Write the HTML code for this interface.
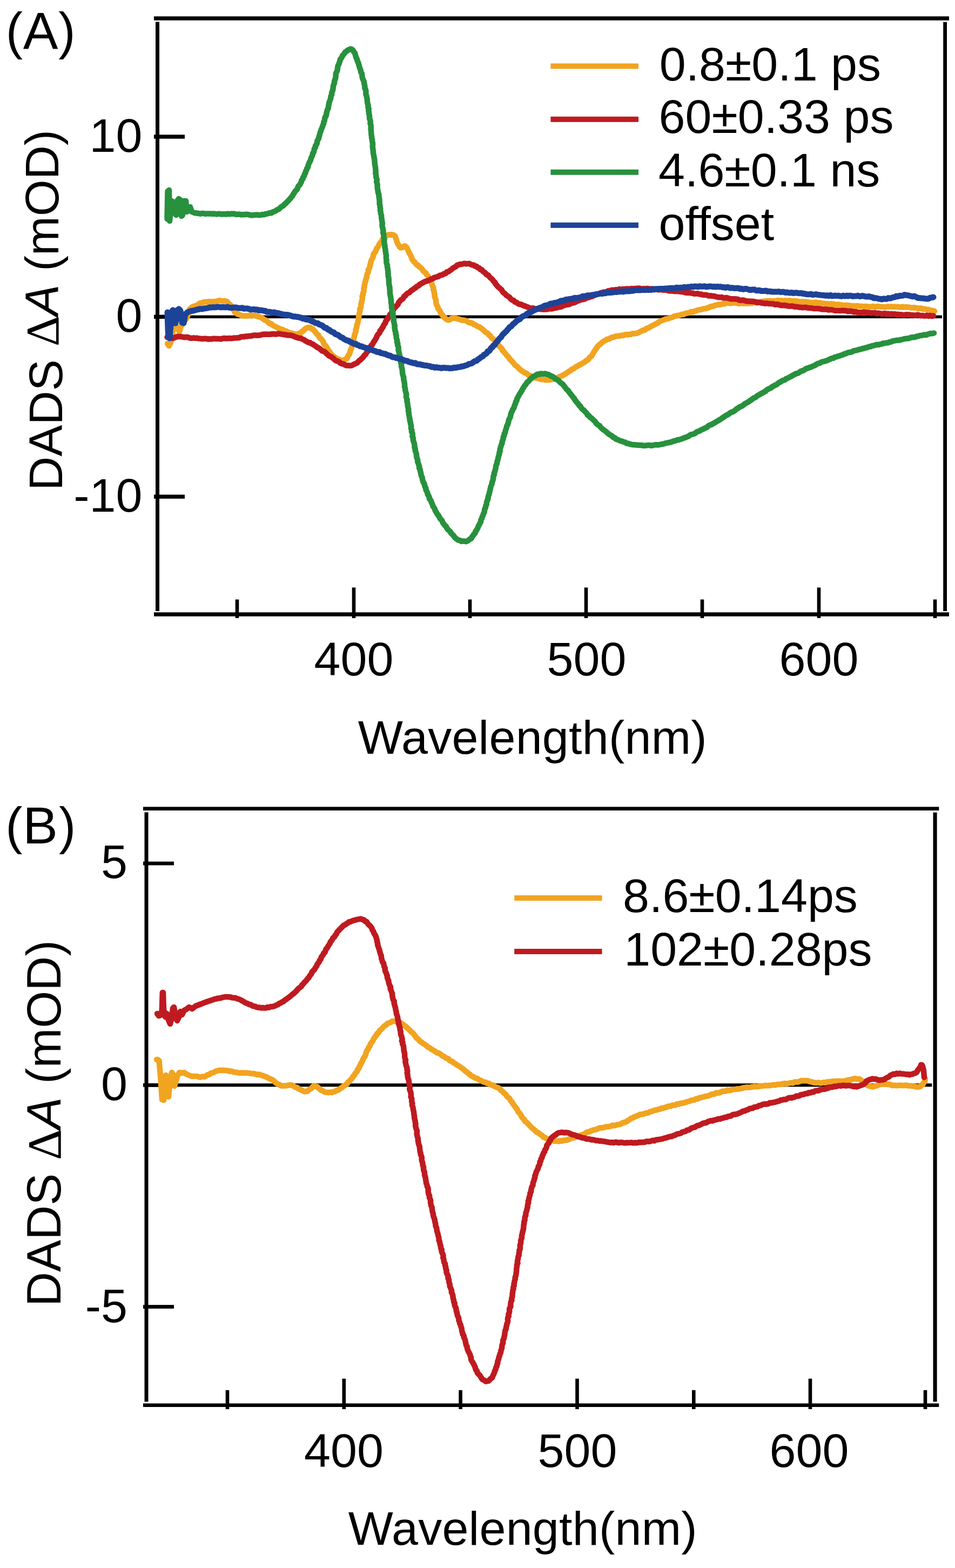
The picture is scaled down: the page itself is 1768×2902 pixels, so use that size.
<!DOCTYPE html>
<html><head><meta charset="utf-8"><title>DADS</title>
<style>html,body{margin:0;padding:0;background:#fff;}svg{display:block;}</style>
</head><body>
<svg width="1768" height="2902" viewBox="0 0 1768 2902">
<rect x="0" y="0" width="1768" height="2902" fill="#fff"/>
<rect x="285" y="30.3" width="1472" height="7.4" fill="#000"/>
<rect x="285" y="1133.3" width="1472" height="7.4" fill="#000"/>
<rect x="288" y="40.5" width="7" height="1090.5" fill="#000"/>
<rect x="1746.2" y="40.7" width="6.8" height="1090.3" fill="#000"/>
<rect x="285" y="249.3" width="57" height="7.4" fill="#000"/>
<rect x="285" y="582.6" width="57" height="7.4" fill="#000"/>
<rect x="285" y="915.5" width="57" height="7.4" fill="#000"/>
<rect x="295" y="583.6" width="1449" height="5.5" fill="#000"/>
<rect x="651.7" y="1087.4" width="6.6" height="56.6" fill="#000"/>
<rect x="1081.7" y="1087.4" width="6.6" height="56.6" fill="#000"/>
<rect x="1512.7" y="1087.4" width="6.6" height="56.6" fill="#000"/>
<rect x="435.7" y="1109.5" width="6.6" height="34.5" fill="#000"/>
<rect x="866.7" y="1109.5" width="6.6" height="34.5" fill="#000"/>
<rect x="1296.7" y="1109.5" width="6.6" height="34.5" fill="#000"/>
<rect x="1727.7" y="1109.5" width="6.6" height="34.5" fill="#000"/>
<path d="M310 636 L313 640 L316 634 L320 612 L324 604 L328 606 L332 614 L335 604 L340 596 L345 590 L349 580 L351 572 L356 568 L365 565 L367.4 563.2 L369.6 561.3 L372.6 561.1 L375.3 559.9 L378.2 558.9 L381.3 558.8 L384.5 559.3 L387.6 557.9 L390.9 558.9 L394.1 558.1 L397.3 558.2 L400.5 557.7 L403.6 556.6 L406.6 556.2 L409.7 556.9 L412.5 557.1 L415.3 556.7 L417.8 557.6 L420.4 558.2 L422.1 560.4 L423.8 562.5 L426.5 564.2 L428 567 L428.9 570.3 L431.7 572.3 L433.3 575.1 L434.8 577.9 L437.6 579.4 L439.8 581.5 L442.8 582.2 L445.7 583.3 L448.6 584.5 L451.7 584.7 L454.9 584.4 L457.9 584.7 L460.9 583.9 L463.9 583.4 L466.9 584.5 L469.9 583.8 L472.8 583.8 L475.5 585.2 L478.2 586.2 L481.2 586.6 L483.9 588 L486.6 589.5 L488.9 591.7 L492 592.7 L494.6 594.5 L496.7 596.9 L499.1 598.8 L502.3 599.3 L504.4 601.5 L506.9 603.1 L509.6 604.3 L512.2 605.5 L514.6 607.1 L517.5 607.8 L519.8 609.6 L522.9 609.8 L525.2 611.8 L528.2 612.2 L530.9 613.5 L533.5 615 L536.2 616.4 L539.4 616.5 L542.2 617.6 L545.1 618.2 L548 619 L550.9 618.5 L553.6 617.1 L556.7 616.2 L558.9 613.6 L561.9 611.9 L564.1 609.2 L566.7 607.5 L569.4 606.2 L572 605.9 L574.6 606.2 L576.4 608.5 L579.4 609 L581.1 611.6 L583.5 613.5 L585 616.2 L586.8 618.6 L589.5 620.3 L590.6 623.2 L592.4 625.7 L595 627.6 L596.7 630.1 L598.5 632.5 L599.3 635.6 L600.9 638.1 L603.2 640.3 L604.8 642.9 L606.6 645.4 L607.3 648.6 L610.1 650.4 L611.4 653.2 L613.4 655.5 L615.3 657.9 L617.8 659.6 L620.2 661.6 L622.9 663 L625.5 665 L628.7 665.3 L631.4 667.1 L634.2 667.3 L636.7 666.2 L638.8 665.2 L641.1 664.3 L642.9 662.6 L643.6 659.9 L644.9 657.6 L646.8 655.3 L647.8 652.4 L648.7 649.5 L649.4 646.4 L651.3 643.6 L651.9 640.5 L652.5 637.4 L652.9 634.2 L654.6 631.5 L654.3 628.2 L655.2 625.2 L656.1 622.2 L656.6 619.2 L657.7 616.3 L658.8 613.4 L658.5 610.2 L659.9 607.4 L660.4 604.4 L660.5 601.3 L662.1 598.5 L662.6 595.5 L663 592.5 L664.1 589.7 L663.9 586.6 L664.7 583.7 L665.2 580.7 L665.8 577.8 L666.5 574.9 L666.1 571.8 L668 569.1 L668.2 566.1 L668.3 563.1 L669.3 560.3 L669.7 557.3 L670.6 554.5 L670.8 551.5 L670.5 548.4 L672.2 545.8 L671.8 542.7 L673.4 540 L673.6 537 L673.5 533.9 L674.5 531.1 L674.5 528.1 L675.5 525.3 L675.9 522.3 L677 519.5 L677.3 516.6 L678.9 513.9 L678.8 510.8 L679.5 507.9 L680.8 505.1 L682 502.4 L681.8 499.2 L683.6 496.6 L684.5 493.7 L685.2 490.8 L685.8 487.8 L686.6 484.9 L687.3 482 L688.8 479.3 L690.2 476.6 L691.2 473.7 L691.4 470.5 L693.3 468 L695.2 465.6 L696.4 462.8 L697.3 459.8 L699.3 457.4 L701 454.9 L702.2 451.9 L703.9 449.4 L706.2 447.1 L707.5 444.2 L709.3 441.6 L711.3 439.3 L713.8 437.7 L715.6 435.5 L718 434.7 L720.3 434.3 L722.7 434.8 L724.9 433.9 L727.1 434.5 L729.2 435.3 L731.5 437 L732.4 440.2 L733.8 443.6 L734.7 447.4 L736.3 451 L738.3 454.1 L739.7 456.8 L741.3 458.4 L743 458.3 L745.2 458.1 L747.1 456.3 L749.2 455.3 L751.1 456.4 L753.2 458.2 L754.5 461.3 L756.1 464.6 L757.5 468.1 L759.4 471.1 L760.9 474.1 L762.1 476.9 L762.9 479.8 L764.6 482 L766.2 484.1 L768.2 485.7 L769.6 487.8 L771.3 489.8 L774 490.8 L775.5 493.2 L778 494.7 L780.1 496.8 L782.2 498.9 L783.7 501.7 L786.1 503.6 L788.6 505.6 L790 508.5 L792.4 510.6 L793.5 513.6 L795.5 515.9 L796.5 518.9 L798.2 521.4 L799.2 524.2 L799.9 527.1 L801.1 529.8 L802.5 532.5 L802 535.7 L803.6 538.4 L803.6 541.4 L804.7 544.2 L804.3 547.3 L805.1 550.3 L806.1 553.1 L807.2 556 L807 559.1 L807.6 562.1 L808.5 565 L810.5 567.5 L810.8 570.8 L812.8 573.2 L814.5 575.8 L815.7 578.6 L817.2 581.3 L819.5 583.3 L820.7 586.2 L823.3 587.8 L825.3 589.9 L827.4 591.5 L829.8 592 L832.4 591.9 L834.7 589.9 L837.5 589.2 L840.3 588.1 L843.1 589.2 L846.1 589.8 L849.1 590.5 L852.1 591.5 L855 592.8 L858.3 592.5 L861.3 593.3 L864.3 594.2 L866.8 596.3 L869.6 597.4 L872.8 597.6 L875.6 598.9 L878 600.9 L881 601.7 L883.3 603.6 L886.2 604.8 L888.9 606.1 L891.3 608 L893.7 609.8 L896 611.7 L898 614 L900.4 615.7 L903.3 617 L904.8 619.7 L907.6 621.1 L909 623.9 L910.9 626.1 L913.6 627.7 L915.3 630.1 L917.3 632.3 L919.4 634.4 L921.4 636.6 L923 639.2 L925.1 641.3 L927.1 643.5 L929.4 645.6 L930.3 648.7 L932.8 650.5 L934.4 653 L936.4 655.3 L938.3 657.7 L940.5 659.8 L942.4 662.2 L943.9 664.9 L946.3 666.8 L948 669.3 L950.3 671.3 L952.1 673.8 L954 676.1 L956.6 677.8 L959 679.6 L960.6 682.3 L963.3 683.8 L965.3 686.1 L968 687.4 L970.3 689.3 L973.2 690.4 L975.8 691.8 L978 694.1 L981 694.9 L983.6 696.5 L986.2 698.3 L989.2 699.1 L992.3 699.4 L995.3 700.1 L998.2 700.8 L1001 702 L1004.1 702.2 L1007.1 702.3 L1010 703.5 L1013 702.4 L1015.9 703.1 L1018.9 702.7 L1021.7 702.1 L1024.6 701.8 L1027.6 701.5 L1030.2 700.2 L1032.7 698.6 L1035.6 697.8 L1038.1 696.2 L1040.9 695.3 L1043.4 693.6 L1046.4 692.6 L1048.6 690.5 L1051.3 689 L1053.7 687 L1056.6 685.8 L1058.6 683.3 L1061.7 682.5 L1064.2 680.7 L1066.5 678.6 L1069.4 677.5 L1071.9 675.7 L1074.7 674.6 L1077.3 673 L1079.8 671.4 L1082.5 670.1 L1084.5 667.8 L1087.3 666.7 L1089.5 664.8 L1091.1 662.1 L1093.3 660.3 L1095.8 658.5 L1097 655.7 L1098.5 653 L1100.1 650.4 L1101.9 648 L1103.4 645.3 L1105.3 642.9 L1107.1 640.4 L1109.3 638.3 L1111.8 636.5 L1113.9 634.4 L1116.3 632.5 L1118.8 630.8 L1121.6 629.6 L1124.1 627.7 L1127.4 627.5 L1130 625.7 L1132.9 624.3 L1136.1 624.1 L1138.8 622.4 L1142 622.2 L1145 621.6 L1148.2 621.8 L1151 620.5 L1154.1 620.9 L1156.8 619.4 L1159.7 619 L1162.7 619.5 L1165.5 618.8 L1168.3 618.7 L1170.9 617.3 L1173.8 617.3 L1176.6 617 L1179.5 616.6 L1182.2 615.5 L1184.8 614.1 L1187.4 612.8 L1190 611.3 L1193.3 611.1 L1195.6 608.9 L1198.3 607.4 L1201.5 606.6 L1204 604.7 L1206.9 603.3 L1209.6 601.8 L1212.5 600.5 L1215.2 598.8 L1218 597.5 L1220.4 595.4 L1223.1 594 L1226 593.1 L1228.9 592.1 L1231.5 590.7 L1234.4 590.2 L1237.3 589.7 L1239.9 588.5 L1242.8 587.8 L1245.5 586.8 L1248.1 585.3 L1251 584.8 L1253.8 583.9 L1256.8 583.7 L1259.6 583 L1262.3 581.6 L1265.4 582.1 L1268 580.3 L1270.9 579.6 L1273.9 579.4 L1276.7 578.4 L1279.4 577 L1282.6 577.4 L1285.4 576 L1288.3 575.3 L1291.1 574.1 L1294 573.4 L1297 573.1 L1299.9 572.1 L1302.9 571.5 L1305.9 571.1 L1308.9 570.3 L1311.8 569.3 L1314.5 567.8 L1317.4 566.9 L1320.5 566.7 L1323.3 565.2 L1326.3 564.6 L1329.2 563.6 L1332.3 563.7 L1335.3 563.3 L1338.2 562.1 L1341.3 562.4 L1344.1 560.9 L1347.1 560.6 L1350.1 561.1 L1353.1 561.3 L1356.1 560.8 L1359.1 560.4 L1362.1 560.5 L1365 561.1 L1368 562.1 L1371 561 L1374 561.6 L1376.9 561.5 L1379.9 561.3 L1382.9 561.4 L1385.9 561.5 L1388.9 561 L1391.9 561.3 L1394.8 560.2 L1397.9 560.2 L1400.9 560.4 L1403.9 559.9 L1406.8 558.9 L1409.8 558.2 L1412.8 557.7 L1415.8 557.5 L1418.8 557 L1421.8 556.9 L1424.8 556.7 L1427.8 557.1 L1430.8 557.1 L1433.8 557 L1436.8 557 L1439.8 556 L1442.8 556.6 L1445.8 556.1 L1448.7 556.7 L1451.7 556.9 L1454.7 556.2 L1457.7 557.1 L1460.8 556.2 L1463.7 556.7 L1466.7 557.2 L1469.7 557.1 L1472.7 557.3 L1475.7 557.3 L1478.7 558.2 L1481.7 558.6 L1484.7 558.2 L1487.7 559 L1490.7 558.4 L1493.7 558.7 L1496.7 559.5 L1499.7 560 L1502.7 560.4 L1505.7 559.9 L1508.8 559.7 L1511.8 559.8 L1514.7 560.9 L1517.8 560.3 L1520.7 561.3 L1523.7 561.6 L1526.7 561.8 L1529.6 562.7 L1532.7 562.1 L1535.6 563.1 L1538.7 562.3 L1541.7 562.8 L1544.7 562.7 L1547.6 564.2 L1550.7 563.5 L1553.7 563.6 L1556.7 564.2 L1559.7 564.6 L1562.6 565.5 L1565.7 564.8 L1568.7 565.2 L1571.7 565.3 L1574.7 565.7 L1577.6 566.5 L1580.7 566 L1583.6 566.9 L1586.7 565.9 L1589.7 566.4 L1592.6 566.9 L1595.7 566.8 L1598.6 567.6 L1601.6 567 L1604.6 567.2 L1607.6 567.7 L1610.6 567.7 L1613.6 567.4 L1616.6 567 L1619.6 568.2 L1622.6 567.2 L1625.6 567.1 L1628.6 567.4 L1631.6 567.8 L1634.6 568.1 L1637.6 568.2 L1640.5 568.3 L1643.5 567.2 L1646.5 568 L1649.5 567.3 L1652.5 568.1 L1655.5 567.5 L1658.5 568 L1661.5 567.6 L1664.4 568.4 L1667.4 568.5 L1670.5 567.7 L1673.4 568.8 L1676.4 568 L1679.4 568.5 L1682.4 568.4 L1685.3 569.3 L1688.3 569.6 L1691.4 569.1 L1694.3 569.5 L1697.3 569.9 L1700.2 571.1 L1703.3 570.5 L1706.3 570.7 L1709.1 572.3 L1712.3 571.7 L1715.1 572.8 L1718.2 572.8 L1721.1 573.8 L1724.1 574.6 L1727.1 574.9 L1730 576" fill="none" stroke="#F1A420" stroke-width="10.5" stroke-linejoin="round" stroke-linecap="round"/>
<path d="M309.5 624 L314 625 L320 626 L328 623 L335 623 L337.9 623.7 L340.7 624.2 L343.7 624 L346.7 624 L349.6 624.6 L352.4 625.8 L355.4 625.9 L358.4 625.3 L361.3 625.9 L364.3 625.6 L367.3 626.5 L370.2 626.6 L373.2 627 L376.2 627 L379.2 626.6 L382.2 626.9 L385.2 627.8 L388.2 627.3 L391.2 627.6 L394.3 626.8 L397.3 626.7 L400.3 627 L403.4 626.9 L406.4 627.1 L409.5 627.5 L412.4 626.2 L415.5 626 L418.6 626.6 L421.6 626.2 L424.6 626.1 L427.7 626.3 L430.8 626 L433.8 625.5 L436.9 625.5 L439.9 625.2 L443 625 L445.9 623.5 L449 623.3 L452 623.2 L455 622.4 L458.1 622.4 L461.1 621.9 L464.2 621.7 L467.2 621.2 L470.2 620.5 L473.2 620.6 L476.3 620.7 L479.3 620.4 L482.3 620.2 L485.2 619 L488.2 618.7 L491.2 618.6 L494.2 618.7 L497.2 618.7 L500.1 618.8 L503.1 618.3 L506 618 L508.9 618.4 L511.9 618.6 L514.8 617.5 L517.7 617.8 L520.6 618.4 L523.5 618.8 L526.3 619.3 L529.2 619.6 L532 620.3 L534.9 620.6 L537.8 620.6 L540.6 621.2 L543.4 622 L546 623.4 L548.8 624.3 L551.6 625.3 L554.5 625.8 L557.5 626.3 L560 627.9 L562.9 628.7 L565.2 630.8 L568 632.1 L570.5 633.7 L573.8 634 L576.2 635.9 L579.1 637 L581.6 638.9 L584.3 640.3 L586.6 642.5 L589.4 643.8 L592.1 645.4 L594.4 647.6 L596.8 649.6 L600.1 650.5 L602.6 652.4 L604.9 654.7 L607.3 656.7 L609.6 658.9 L612.7 660 L615.1 662 L617.8 663.6 L619.8 666 L622.3 667.7 L625.4 668.5 L628 669.9 L630.1 672.1 L632.8 673.1 L635.6 673.6 L637.9 674.9 L640.3 676.3 L642.9 676.4 L645.4 676.5 L648 676.7 L650.6 676.6 L653.1 675.3 L655.5 674.1 L658 672.9 L660.8 671.9 L663 669.7 L665.1 667.4 L667.7 665.7 L669.9 663.3 L672.3 661.1 L674 658.2 L676.6 656.1 L678.3 653.2 L680.2 650.5 L682.5 648.1 L683.4 644.8 L685.8 642.6 L687 639.6 L689.5 637.6 L690.8 634.8 L692.2 632.1 L694.1 629.8 L695.5 627.3 L697 624.8 L697.8 621.9 L699.4 619.6 L701.2 617.4 L703.1 615.2 L703.6 612.2 L706 610.3 L707.1 607.6 L709 605.4 L709.9 602.6 L711.4 600.1 L713.5 597.9 L714 594.8 L715.5 592.2 L717.9 590.2 L718.7 587.2 L721.2 585.2 L722 582.2 L724.1 580 L725.6 577.4 L727.6 575 L728.8 572.2 L730.7 569.8 L732.7 567.5 L734.9 565.4 L736.8 563.1 L737.9 560.1 L739.9 557.8 L741.8 555.4 L744.6 553.8 L746.6 551.6 L748 548.7 L750.6 547 L752.4 544.6 L754.8 542.7 L757.7 541.5 L759.8 539.4 L762 537.3 L764.7 535.8 L767 533.9 L769.6 532.4 L771.7 530.1 L774.6 529.1 L776.6 526.6 L779.3 525.4 L781.9 523.8 L784.4 522.3 L787.1 520.9 L790.1 520.3 L792.8 519.2 L795.5 518 L798 516.4 L800.9 516 L803.3 514.1 L806 513.3 L808.7 512.3 L811.6 511.8 L813.9 509.8 L816.7 509.2 L819.5 508.4 L822 506.6 L825 506 L827.1 503.4 L830.4 502.6 L833 500.6 L835.7 498.7 L838.2 496.6 L840.9 494.8 L843.9 493.5 L846.1 491 L849.1 490 L851.9 489.1 L854.8 489 L857.5 488.2 L860.3 487.7 L863 488.3 L865.8 488.1 L868.7 487.8 L871.3 489.3 L873.9 490.2 L876.9 490.4 L879.2 492.5 L882.2 492.9 L884.3 495.3 L887.3 496 L889.2 498.6 L892.3 499.5 L894 502.2 L896.6 503.7 L898.9 505.7 L900.7 508.2 L903.9 509.3 L905.7 511.8 L907.7 514 L910.2 515.9 L912.3 518.2 L913.9 520.9 L916.4 522.8 L917.6 525.8 L919.8 527.9 L921.6 530.5 L924 532.4 L926.3 534.5 L928.7 536.4 L930.2 539.2 L932 541.7 L934.7 543.3 L936.5 545.7 L939 547.5 L941.6 549 L943.9 550.9 L945.6 553.5 L948.1 555.2 L951.1 556.1 L953 558.6 L956 559.5 L958.3 561.5 L960.9 562.9 L964.1 563.2 L966.8 564.3 L969.4 565.9 L972.3 566.5 L975 567.7 L977.8 568.7 L980.5 570.1 L983.4 570.8 L986.5 570.1 L989.4 571.1 L992.3 571.5 L995.2 571.4 L998.1 572.1 L1001 572.2 L1003.9 572.4 L1006.9 572.8 L1009.8 572.5 L1012.7 572.6 L1015.6 571.4 L1018.5 571.2 L1021.5 571.6 L1024.4 570.7 L1027.1 569.4 L1030.2 569.8 L1033.1 569 L1035.9 568.1 L1038.9 567.7 L1041.6 566.1 L1044.5 565.3 L1047.4 564.3 L1050.3 563.7 L1053.5 563.6 L1056.2 562 L1059 560.9 L1062.1 560.4 L1065.1 559.5 L1067.6 557.5 L1070.7 556.9 L1073.5 555.5 L1076.4 554.4 L1079.6 554.1 L1082.6 553.3 L1085.4 551.9 L1088.3 550.9 L1091.3 550 L1094.2 549 L1097.2 548.2 L1099.8 546.3 L1102.9 545.8 L1105.7 544.5 L1108.7 543.8 L1111.5 542.4 L1114.4 541.6 L1117.3 540.6 L1120.5 540.9 L1123.3 539.8 L1126.1 538.2 L1129.3 538.7 L1131.9 536.9 L1134.9 536.8 L1138 536.9 L1140.9 536.1 L1143.9 536.4 L1146.7 535.1 L1149.7 535.6 L1152.6 535.3 L1155.6 535.1 L1158.5 534.7 L1161.4 534.5 L1164.4 534.9 L1167.3 534.4 L1170.2 534 L1173.2 534.7 L1176.1 533.9 L1179.1 533.8 L1182 533.6 L1185 533.7 L1187.9 535 L1190.9 534.2 L1193.8 534.5 L1196.8 534.1 L1199.7 534.1 L1202.7 534.4 L1205.6 534.8 L1208.6 534.5 L1211.5 535.1 L1214.5 534.9 L1217.4 536.2 L1220.4 536.2 L1223.4 535.9 L1226.3 536.5 L1229.2 536.9 L1232.3 536.5 L1235.2 537.2 L1238.1 538.2 L1241 538.4 L1244 538.4 L1247 538.9 L1249.9 539.2 L1253 538.8 L1255.9 539.5 L1258.9 539.5 L1261.9 540.2 L1264.9 539.9 L1267.7 541.3 L1270.7 541.7 L1273.7 542 L1276.8 541.5 L1279.6 542.5 L1282.6 542.7 L1285.5 543.7 L1288.6 543.6 L1291.6 543.3 L1294.5 544.5 L1297.6 544.5 L1300.4 545.5 L1303.5 545.7 L1306.5 545.7 L1309.4 546.6 L1312.3 547.5 L1315.4 547.2 L1318.4 547.7 L1321.4 547.9 L1324.3 548.7 L1327.2 549.6 L1330.2 550.2 L1333.2 550.2 L1336.3 550 L1339.1 551.4 L1342.2 551.3 L1345.3 551 L1348.2 552 L1351.1 552.8 L1354.1 553.2 L1357.1 553.2 L1360.1 553.3 L1363.2 553.5 L1366.1 553.9 L1369 555.6 L1372 555.9 L1375.1 555.3 L1378 556.1 L1380.9 557 L1383.9 557.6 L1386.9 557.6 L1390 557.7 L1393 557.8 L1396 558.2 L1399 558.6 L1401.8 559.9 L1404.9 559.6 L1407.9 560 L1410.8 561 L1413.8 561.1 L1416.8 561.8 L1419.9 561.3 L1422.8 562 L1425.9 562 L1428.9 562.3 L1431.9 562.3 L1434.8 563.7 L1437.9 563.2 L1440.9 563.4 L1443.7 564.8 L1446.7 565.2 L1449.8 565.2 L1452.8 565 L1455.8 565.7 L1458.7 566.4 L1461.7 566.7 L1464.8 566.6 L1467.8 566.6 L1470.7 567.7 L1473.7 567.6 L1476.7 567.9 L1479.7 568.7 L1482.7 568.7 L1485.7 569.2 L1488.7 569.1 L1491.8 568.8 L1494.7 569.6 L1497.7 570.1 L1500.7 570.2 L1503.7 570.3 L1506.7 571.1 L1509.7 570.7 L1512.7 571 L1515.7 571.2 L1518.7 571.4 L1521.7 572.4 L1524.7 572.5 L1527.7 572.6 L1530.7 572.5 L1533.6 573.6 L1536.7 573.3 L1539.7 573.2 L1542.7 573.8 L1545.6 574.8 L1548.6 574.9 L1551.7 574.5 L1554.6 575.1 L1557.7 574.8 L1560.7 574.8 L1563.7 575 L1566.7 575.3 L1569.6 576.3 L1572.6 575.8 L1575.6 575.9 L1578.6 576.5 L1581.5 577.6 L1584.6 577 L1587.5 578 L1590.5 578.1 L1593.5 578.5 L1596.6 578.1 L1599.6 577.7 L1602.6 578 L1605.5 578.6 L1608.5 578.6 L1611.5 579.6 L1614.5 578.9 L1617.5 579.2 L1620.5 579 L1623.5 580.4 L1626.5 579.6 L1629.5 580.2 L1632.4 581 L1635.4 580.5 L1638.5 580 L1641.4 581.4 L1644.4 580.5 L1647.4 581.8 L1650.4 580.8 L1653.4 581.5 L1656.4 581.1 L1659.3 582.2 L1662.4 581.7 L1665.3 582.3 L1668.3 582.2 L1671.3 582.9 L1674.3 583.1 L1677.3 582.2 L1680.3 582.4 L1683.3 582.4 L1686.2 583.1 L1689.2 583.1 L1692.2 583.4 L1695.2 583.7 L1698.2 582.8 L1701.2 583.3 L1704.1 584.2 L1707.1 583.9 L1710.1 584.5 L1713.1 584.7 L1716.1 583.5 L1719 584.9 L1722 584 L1725 585 L1728 584.5" fill="none" stroke="#BF1A20" stroke-width="10.5" stroke-linejoin="round" stroke-linecap="round"/>
<path d="M309.5 405 L310.5 354 L313 352 L314 409 L316 392 L318 372 L321 374 L323 390 L326 398 L328 372 L331 368 L334 370 L336 400 L338 398 L341 372 L344 372 L346 392 L349 384 L352 383 L355 392 L360 394 L368 395 L371 395.8 L374.2 394.9 L377.2 395.1 L380.2 395.8 L383.2 395.5 L386.2 395.4 L389.2 395.6 L392.2 395.8 L395.2 395.6 L398.1 395.8 L401.1 396.4 L404 395.8 L407 395.7 L409.9 396.5 L412.9 396.2 L415.8 396.3 L418.8 396.5 L421.7 395.6 L424.7 396.3 L427.7 395.6 L430.7 395.8 L433.7 395.6 L436.7 396.7 L439.7 396.8 L442.8 396.4 L445.8 397.2 L448.9 397.2 L451.9 397.3 L455.1 396.8 L458.1 396.8 L461.2 397.4 L464.2 398.3 L467.3 398.4 L470.4 397.8 L473.4 397.8 L476.5 397.4 L479.5 398.3 L482.5 397.9 L485.4 397.1 L488.4 397.2 L491.2 396.2 L494 395.8 L496.8 395 L499.5 394.1 L502.6 394.2 L504.9 392.3 L507.7 391.5 L510.4 390.3 L512.6 388.4 L515.5 387.5 L517.8 385.6 L519.9 383.5 L522.3 381.8 L525 380.3 L526.9 377.9 L529.4 376.2 L531.2 373.7 L533.5 371.7 L535.5 369.4 L537.6 367.2 L539.5 364.7 L541.5 362.5 L542.8 359.6 L544.6 357.1 L546.2 354.5 L548.1 352.2 L550.4 350 L551.2 347 L552.6 344.2 L555 342.1 L556.4 339.4 L557.8 336.7 L558.4 333.6 L560.5 331.3 L561.1 328.2 L563.1 325.8 L563.6 322.8 L565.5 320.3 L565.9 317.2 L567.5 314.6 L568.3 311.7 L570.2 309.2 L570.6 306.1 L571.6 303.3 L572.8 300.5 L574.4 297.9 L575.3 295.1 L576 292.2 L577.6 289.6 L578.6 286.8 L579 283.8 L580.9 281.3 L581.5 278.4 L581.8 275.4 L583.9 273 L583.9 270 L585.7 267.5 L586.9 264.8 L587.1 261.8 L588.2 259.1 L589.9 256.6 L590.5 253.8 L591.3 251 L592 248.2 L592.7 245.3 L593.9 242.6 L594.7 239.8 L595.9 237.2 L597 234.4 L597.9 231.6 L599.1 228.9 L599.4 225.9 L600.7 223.2 L601.1 220.2 L601.7 217.3 L603.5 214.7 L604.2 211.7 L604.6 208.7 L605.4 205.8 L606.3 202.8 L607.8 200 L608.1 196.9 L608.7 193.8 L609.2 190.7 L610.1 187.6 L611.3 184.6 L612.3 181.6 L612.4 178.3 L614.1 175.4 L614 172 L615.3 169 L616.3 165.9 L616.6 162.7 L616.9 159.4 L617.9 156.3 L619.2 153.3 L619.1 150.1 L620.4 147.1 L621.3 144.1 L621.6 140.9 L621.6 137.8 L622.3 134.8 L623.8 132 L624.7 129.2 L624.9 126.2 L625.4 123.3 L626.2 120.6 L627.7 118 L628.3 115.3 L629.4 112.8 L629.8 109.9 L631.6 107.8 L633.1 105.5 L634.1 102.9 L636 100.9 L637.7 98.6 L639.3 96.1 L642 94.7 L643.8 92.5 L646.5 91.9 L648.6 90.6 L650.7 91 L652.4 92 L653.9 93.5 L655 95.9 L657.1 98.2 L657.8 101.2 L658.6 104.3 L659.7 107.2 L661 110 L661.7 113 L663.2 115.8 L664 118.8 L664.9 121.7 L665.6 124.7 L666.7 127.6 L667.8 130.4 L668.1 133.5 L669.9 136.2 L670.3 139.2 L670.5 142.3 L671.2 145.3 L672.6 148 L673.7 150.9 L674.2 153.9 L674.7 156.9 L675.5 159.8 L675.2 163 L676.8 165.7 L677.5 168.7 L677.3 171.8 L677.5 174.8 L678.7 177.7 L679 180.7 L679.9 183.6 L679.8 186.6 L680.2 189.6 L680.8 192.6 L681.8 195.5 L681.4 198.6 L682.8 201.4 L682.2 204.5 L682.9 207.5 L683.1 210.5 L683.9 213.4 L684.2 216.4 L684.1 219.4 L685.3 222.3 L685.9 225.3 L685.4 228.4 L686.5 231.3 L686.8 234.3 L686.5 237.3 L686.7 240.3 L687.1 243.3 L687.3 246.3 L687.4 249.3 L688 252.3 L688 255.3 L689 258.2 L689 261.3 L689.8 264.2 L690.1 267.2 L689.6 270.3 L690 273.3 L690.3 276.2 L690.9 279.2 L690.9 282.2 L691.4 285.2 L692 288.1 L692.3 291.1 L693.2 294.1 L693.4 297.1 L693.6 300.1 L693.8 303.1 L694.3 306 L694.9 309 L695.2 312 L695.4 315 L695.7 318 L695.3 321 L696.2 324 L696.2 327 L696.9 329.9 L697.9 332.8 L697.1 335.9 L697.8 338.9 L698.7 341.8 L698.6 344.8 L698.6 347.8 L699.2 350.8 L699.7 353.8 L700 356.7 L701.3 359.6 L701.4 362.6 L701.8 365.6 L702.3 368.5 L702.6 371.5 L702.6 374.6 L702.6 377.6 L703.4 380.5 L703.6 383.5 L704.3 386.4 L703.9 389.5 L704.8 392.4 L704.8 395.4 L706.1 398.3 L706.1 401.3 L706.3 404.3 L707 407.2 L707.2 410.2 L708 413.1 L707.5 416.2 L707.7 419.2 L708.5 422.1 L709 425.1 L709.6 428 L709.1 431.1 L710.3 434 L710.4 437 L710.5 440 L711.5 442.9 L711.1 445.9 L711.5 448.9 L711.6 451.9 L712.6 454.8 L712.4 457.8 L713.3 460.7 L713.5 463.7 L714 466.7 L714.2 469.6 L715.1 472.6 L714.8 475.6 L715 478.6 L715.5 481.5 L715.3 484.5 L715.7 487.5 L717 490.4 L716.9 493.4 L717.6 496.3 L717.8 499.3 L718.4 502.2 L718.3 505.2 L718.7 508.2 L718.7 511.2 L719.5 514.1 L719.7 517.1 L719.9 520.1 L720 523.1 L720.2 526 L720.8 529 L721.5 531.9 L721.4 534.9 L721.9 537.9 L721.7 540.9 L722 543.9 L722.5 546.8 L723.2 549.7 L723.5 552.7 L724.1 555.7 L724.1 558.7 L724.5 561.6 L724.9 564.6 L725 567.6 L725.3 570.6 L725.9 573.5 L726.1 576.5 L727.5 579.3 L727.4 582.4 L727.3 585.4 L728.6 588.3 L728.9 591.3 L728.7 594.3 L729.5 597.2 L730 600.2 L730.9 603.1 L730.5 606.2 L731 609.1 L731.4 612.1 L732.6 615 L732.5 618 L733.7 620.9 L733.6 624 L734.2 626.9 L735.3 629.8 L734.9 632.9 L736.3 635.7 L736 638.8 L737.4 641.6 L737.8 644.6 L737.4 647.7 L738.3 650.6 L739 653.6 L739.6 656.5 L740.2 659.5 L741.1 662.4 L740.8 665.5 L741.8 668.4 L742.1 671.4 L743.2 674.3 L743 677.3 L743.6 680.3 L744.5 683.2 L744.9 686.2 L745 689.2 L745.4 692.2 L746.1 695.1 L747.2 698 L747.2 701.1 L747.6 704 L748.5 706.9 L748.9 709.9 L749.2 712.9 L749 716 L750.2 718.8 L750.2 721.9 L750.9 724.8 L751.8 727.7 L752.4 730.6 L751.9 733.7 L752.5 736.7 L753.7 739.5 L753.3 742.6 L754.3 745.5 L754.5 748.5 L754.9 751.5 L755.4 754.4 L756.3 757.3 L755.9 760.4 L756.7 763.3 L756.8 766.4 L757.4 769.3 L758 772.2 L758.6 775.2 L758.7 778.2 L759.8 781 L760 784 L760.9 786.9 L761.1 789.9 L761 793 L762.3 795.8 L761.9 798.9 L763.5 801.7 L763.9 804.6 L763.4 807.7 L764.8 810.5 L764.8 813.6 L765.3 816.5 L766.5 819.3 L767.2 822.3 L767.6 825.2 L767.5 828.3 L768.8 831.1 L768.8 834.2 L770 837 L770.8 839.8 L771.1 842.8 L771.3 845.9 L772.3 848.7 L773.3 851.6 L773.2 854.7 L774.4 857.5 L775.3 860.3 L776.3 863.2 L776.1 866.3 L777.7 869 L778.1 872 L779 874.9 L779.4 877.9 L780.1 880.9 L781.6 883.5 L781.9 886.6 L782.7 889.5 L783.6 892.4 L785.4 895 L786 897.9 L786.9 900.8 L788.3 903.5 L788.5 906.6 L790 909.2 L791.3 912 L791.7 915 L793.5 917.6 L794.8 920.3 L795 923.4 L797.3 925.7 L798.4 928.5 L799.4 931.3 L800.7 934 L801.6 936.9 L803.3 939.3 L804.9 941.9 L805.7 944.8 L807.3 947.3 L808.7 950 L810.3 952.5 L812.3 954.8 L813.6 957.5 L815.1 960 L817.2 962.2 L818.8 964.7 L820 967.6 L821.7 970 L823.5 972.4 L825.9 974.4 L827.2 977.2 L829 979.8 L831.3 981.8 L833.6 984 L835.1 986.8 L837.4 989 L839.7 991.2 L841.4 994 L843.6 996.2 L846.1 997.9 L848.6 999.7 L851.6 1000.1 L854.1 1001.9 L857 1001.6 L859.7 1001.5 L862.6 1002.3 L865.2 1001.4 L867.5 999.8 L869.6 998 L872.3 996.7 L873.6 993.9 L875.7 991.7 L877.1 989 L879.5 986.9 L880.2 983.8 L882.2 981.5 L883.5 978.8 L884.9 976.1 L885.9 973.2 L887.5 970.7 L888.7 967.9 L890.2 965.3 L890.4 962.1 L892.1 959.5 L892.6 956.5 L894.2 953.9 L894.9 950.9 L896.5 948.3 L896.9 945.2 L897.3 942.2 L898.9 939.5 L899.2 936.4 L900.7 933.7 L900.9 930.6 L901.5 927.6 L902.9 924.8 L903.5 921.9 L903.9 918.9 L905 916 L905.8 913.1 L906.5 910.2 L907.2 907.3 L907.9 904.3 L908.4 901.4 L909.5 898.5 L910.6 895.7 L911 892.7 L912 889.9 L912.9 887 L913.3 884 L913.5 881 L915 878.3 L914.9 875.1 L916.2 872.4 L916.8 869.5 L917.6 866.6 L917.9 863.6 L918.6 860.6 L920.1 858 L920.2 854.9 L921.2 852.1 L922 849.2 L922.6 846.3 L923.3 843.4 L924.4 840.6 L924.4 837.5 L925.8 834.8 L925.6 831.6 L926.5 828.8 L927.3 825.9 L928.3 823.1 L929.5 820.3 L929.7 817.3 L930.8 814.5 L931.7 811.7 L931.9 808.6 L933.5 806 L933.6 802.9 L935.3 800.3 L935.7 797.3 L936.6 794.5 L937.6 791.7 L938.2 788.7 L939.7 786.1 L940.6 783.2 L941.4 780.3 L941.8 777.3 L943.3 774.6 L944.7 772 L945.2 769 L945.9 766 L946.9 763.2 L948.3 760.5 L949.3 757.7 L951.2 755.2 L952 752.3 L953 749.4 L954.3 746.7 L954.9 743.6 L956.7 741.1 L957.2 738 L958.7 735.3 L960.2 732.7 L961.5 729.9 L963.2 727.4 L964.8 724.9 L966.3 722.3 L967.7 719.6 L969.3 717.1 L970.9 714.5 L972.7 712.2 L974.5 709.8 L976.2 707.3 L978.6 705.5 L980.5 703.2 L982.8 701.1 L984.9 698.9 L987.2 696.9 L990.2 696 L992.5 694 L995.2 692.6 L998.3 692.8 L1000.9 691.4 L1003.7 691.7 L1006.5 691.9 L1009.4 691.4 L1012.1 692.7 L1015.1 693 L1017.7 694.5 L1020.3 696 L1023.1 697 L1025.6 698.7 L1027.9 700.8 L1030.5 702.3 L1033.2 703.8 L1035.4 705.9 L1037.5 708.2 L1040.1 709.9 L1042.4 711.8 L1044.2 714.4 L1046.1 716.7 L1047.9 719.2 L1049.9 721.4 L1052.3 723.4 L1053.8 726.1 L1055.7 728.5 L1057.7 730.8 L1059.5 733.2 L1061.3 735.7 L1063.4 737.9 L1064.6 740.8 L1066.8 742.9 L1068.4 745.5 L1070.8 747.4 L1072 750.3 L1074.6 752 L1075.9 754.8 L1077.9 757.1 L1080.5 758.8 L1082.4 761 L1084.5 763.1 L1086.5 765.3 L1087.9 768.1 L1090.6 769.6 L1092.3 772.2 L1094.9 773.8 L1097 775.8 L1099.2 777.9 L1101.4 779.8 L1103.1 782.4 L1105.1 784.6 L1107.4 786.6 L1110.2 788 L1111.9 790.6 L1114 792.7 L1116.3 794.6 L1118.7 796.5 L1121.2 798.2 L1123.4 800.2 L1125.6 802.2 L1128 804 L1130.5 805.6 L1133.2 806.9 L1135.2 809.3 L1138.2 810.3 L1140.3 812.6 L1143.2 813.5 L1145.9 814.8 L1148.6 816 L1151.6 816.6 L1154.3 817.9 L1157.3 818.6 L1159.9 820.5 L1163 820.7 L1165.9 821.9 L1168.9 822.6 L1171.9 823.1 L1175 823.3 L1178.1 823.6 L1181.2 823.7 L1184.2 824 L1187.3 823.9 L1190.3 824.8 L1193.3 824.8 L1196.3 824.5 L1199.3 824.1 L1202.3 824.1 L1205.3 824.7 L1208.3 824.2 L1211.2 823.7 L1214.1 823 L1217.2 823.5 L1220.1 823 L1223 822.6 L1225.9 822 L1228.8 821.6 L1231.6 820.3 L1234.5 819.8 L1237.4 819.1 L1240.3 818.7 L1243.1 817.9 L1245.9 816.8 L1248.7 815.9 L1251.6 815.3 L1254.3 814.1 L1257.4 813.9 L1260.2 812.9 L1263 811.9 L1265.7 810.8 L1268.5 809.8 L1271.3 808.7 L1274.2 807.8 L1276.6 805.8 L1279.2 804.3 L1282.2 803.7 L1285.1 802.9 L1287.7 801.3 L1290.1 799.2 L1293 798.3 L1295.8 797.3 L1298.3 795.4 L1301.2 794.4 L1303.9 793.1 L1306.5 791.6 L1309.3 790.5 L1311.5 788.1 L1314.2 786.7 L1317.2 786 L1319.7 784.1 L1322.5 782.9 L1325 781.2 L1327.6 779.6 L1330.2 778.1 L1332.8 776.6 L1335.4 775 L1337.8 773.1 L1340.4 771.6 L1342.7 769.7 L1345.5 768.3 L1348.2 767 L1350.5 765 L1353 763.3 L1356 762.4 L1358.7 761.1 L1361.2 759.3 L1363.3 757 L1366 755.8 L1368.3 753.8 L1371.1 752.5 L1374 751.4 L1376.4 749.6 L1378.6 747.5 L1381.3 746.2 L1383.9 744.6 L1386.6 743.3 L1388.8 741.1 L1391.5 739.9 L1393.7 737.7 L1396.3 736.3 L1399.2 735.3 L1401.3 733 L1403.9 731.4 L1406.6 730.1 L1409 728.4 L1411.8 727.2 L1414.3 725.6 L1417.1 724.3 L1419.1 722 L1421.7 720.4 L1424.5 719.2 L1427.2 718 L1429.4 715.9 L1432.1 714.7 L1434.5 712.8 L1437.5 712 L1439.8 710 L1442.1 708.1 L1444.9 706.9 L1447.4 705.2 L1450 703.8 L1453 703.1 L1455.3 701 L1458.2 700.1 L1460.7 698.5 L1463.4 697.3 L1466 695.7 L1468.5 694.1 L1471.3 693 L1473.8 691.4 L1476.9 690.8 L1479.5 689.4 L1481.9 687.5 L1484.7 686.4 L1487.6 685.6 L1490.1 683.8 L1492.6 682.1 L1495.6 681.4 L1498.3 680.2 L1501.2 679.3 L1504 678.2 L1506.7 676.8 L1509.5 675.9 L1511.9 673.8 L1514.7 672.7 L1517.7 672 L1520.2 670.4 L1523.1 669.4 L1526.1 668.9 L1528.9 667.9 L1531.8 667 L1534.5 665.6 L1537.2 664.3 L1540 663.1 L1543 662.8 L1545.5 660.9 L1548.5 660.4 L1551.3 659.3 L1554.3 658.7 L1557.1 657.5 L1560 656.7 L1562.6 655.2 L1565.6 654.6 L1568.3 653.2 L1571.1 652.2 L1574.2 652.1 L1577.1 651.2 L1579.8 649.6 L1582.7 648.8 L1585.7 648.4 L1588.5 647.5 L1591.4 646.6 L1594.4 646.1 L1597.2 645 L1600.2 644.5 L1603 643.5 L1606 643 L1608.7 641.6 L1611.8 641.6 L1614.5 639.9 L1617.5 639.6 L1620.4 638.6 L1623.2 637.7 L1626.4 638 L1629.3 637.2 L1632.2 636.7 L1635 635.3 L1638.1 635.3 L1641 634.5 L1644 634.2 L1646.8 633.2 L1649.8 632.6 L1652.5 631.2 L1655.5 630.7 L1658.4 630.1 L1661.4 629.7 L1664.5 629.8 L1667.3 628.8 L1670.3 628.4 L1673.2 627.4 L1676.1 626.8 L1679.1 626.6 L1682.1 626.3 L1685 625.3 L1687.8 624.2 L1690.9 624.3 L1693.9 624 L1696.6 622.6 L1699.7 622.4 L1702.5 621.2 L1705.5 620.9 L1708.4 620.4 L1711.3 619.5 L1714.4 620 L1717.3 618.9 L1720.1 617.8 L1723 617.2 L1726.1 617.3 L1729 616.5" fill="none" stroke="#27913D" stroke-width="10.5" stroke-linejoin="round" stroke-linecap="round"/>
<path d="M310 578 L311 610 L312 624 L314 626 L316 600 L317 578 L320 574 L323 598 L325 598 L328 574 L331 572 L334 575 L337 597 L340 598 L343 582 L347 578 L352 576 L358 575 L365 573 L367.9 572.5 L370.8 571.6 L373.8 572 L376.7 571.2 L379.6 570.8 L382.5 570.4 L385.4 569.9 L388.3 568.8 L391.3 569.1 L394.3 568.6 L397.3 568.7 L400.3 568.5 L403.2 567.9 L406.2 568.3 L409.2 568.9 L412.3 568.2 L415.3 568.7 L418.3 568.8 L421.3 568.1 L424.3 569.3 L427.3 569.5 L430.4 569.5 L433.4 568.9 L436.5 568.9 L439.5 569.8 L442.5 570.2 L445.6 570.3 L448.7 569.8 L451.6 571.2 L454.7 570.9 L457.8 571 L460.8 571.6 L463.7 572.9 L466.8 572.8 L470 572.4 L473 573.1 L476.1 572.9 L478.9 574.5 L482.1 574 L485.1 574.5 L488.1 575.2 L491.1 575.3 L493.9 577.2 L497 577.2 L500 577.3 L502.9 578.6 L506 578.1 L509 578.2 L511.9 579.5 L514.9 579.6 L517.8 580.5 L520.7 580.9 L523.6 581.9 L526.5 582.2 L529.4 582.9 L532.4 582.5 L535.3 583.3 L538.1 584 L540.8 585.4 L543.7 585.9 L546.6 585.7 L549.4 586.5 L552.3 586.6 L555.1 587.7 L557.9 588 L560.4 589.8 L563.6 589.1 L566 591.3 L569.2 590.7 L571.8 592 L574.6 593 L577.1 594.5 L580 595.1 L582.4 597.1 L585.2 598.1 L588.4 598.3 L590.7 600.4 L593.7 601.3 L596.5 602.6 L598.9 604.6 L601.3 606.8 L604.7 607.1 L606.7 609.9 L609.9 610.7 L612.2 613 L615 614.4 L618.2 615.3 L620.3 618 L623.3 619.1 L626.3 620.2 L628.7 622.2 L631.2 624.2 L634.3 625.1 L636.6 627.2 L639.3 628.7 L642 630 L645.1 630.5 L647.5 632.5 L650.4 633.4 L652.9 635.1 L655.5 636.3 L658.7 636.3 L661.1 638.4 L663.9 639.1 L666.4 640.8 L669.5 640.9 L672 642.3 L674.9 643 L677.6 644.2 L680.6 644.3 L683.3 645.2 L685.7 647.4 L688.8 647.3 L691.3 648.8 L694.2 649.5 L696.8 650.8 L699.6 651.8 L702.7 651.6 L705.1 653.6 L708.1 653.9 L710.9 654.8 L713.9 655.3 L716.5 656.8 L719.3 657.8 L722.3 658.1 L724.8 659.9 L727.6 661.1 L730.7 661.2 L733.4 662.5 L736.5 662.8 L739.2 664.3 L742.3 664.5 L745.2 665.4 L747.9 666.7 L750.8 667.7 L753.9 668 L756.6 669.7 L759.6 670.5 L762.6 671 L765.5 672.3 L768.9 671.7 L771.5 673.8 L774.6 674.2 L777.8 674.2 L780.7 675.3 L783.8 675.8 L786.8 676.5 L790 676.6 L793 677.2 L796.1 677.7 L798.9 679.3 L802.1 679.1 L805 680.4 L808.2 679.6 L811.1 680.6 L814.2 680.6 L817.1 681.4 L820.2 680.5 L823.2 680.7 L826.2 681 L829.1 680.9 L832.1 681.7 L835.1 681.6 L838 681.2 L840.9 680.2 L843.8 680.5 L846.7 679.9 L849.6 679.4 L852.5 679.1 L855.2 677.9 L858.1 677.9 L860.7 676.6 L863.6 676.1 L866.2 674.8 L868.7 673.4 L871.7 673.1 L874.3 671.8 L876.7 670 L879.1 668.4 L882.2 667.9 L884.3 665.7 L886.7 664.1 L889.1 662.3 L891.5 660.6 L894.3 659.3 L895.9 656.5 L898.9 655.3 L901.2 653.4 L902.7 650.5 L905.8 649.3 L907.5 646.8 L909.2 644.1 L911.9 642.5 L913.2 639.6 L916.1 638.1 L917.5 635.3 L919.4 632.9 L921.7 630.9 L923.2 628.2 L925.2 626 L927.6 624.1 L929.2 621.4 L930.8 618.9 L933.3 617 L935.3 614.7 L937.7 612.8 L939.5 610.3 L941.6 608.1 L943.3 605.5 L946.3 604.2 L948.2 601.8 L950.2 599.4 L952.9 597.8 L954.8 595.4 L957.2 593.4 L959.9 591.9 L962.7 590.6 L964.6 587.9 L967 586.1 L969.7 584.7 L972.8 584 L974.8 581.5 L977.4 579.9 L980 578.4 L983 577.7 L985.4 576 L988 574.6 L990.7 573.4 L993.4 572.3 L996.2 571.3 L998.8 569.8 L1001.7 569.2 L1004.4 568.3 L1006.9 566.4 L1009.6 565.4 L1012.7 565.3 L1015.4 564.2 L1018 562.6 L1020.8 561.7 L1023.9 562.1 L1026.5 560.4 L1029.6 560.4 L1032.3 559.4 L1035.2 558.5 L1037.8 557 L1040.8 556.5 L1043.8 556.7 L1046.5 554.9 L1049.4 554.2 L1052.4 554.1 L1055.3 553.2 L1058.4 553.3 L1061.2 552.2 L1064.1 551.3 L1067.2 551.4 L1070.2 551.2 L1073.2 550.7 L1076.1 550.1 L1078.8 548.2 L1082 548.5 L1084.9 547.8 L1087.8 546.7 L1090.9 546.7 L1094 546.8 L1096.9 545.8 L1100 545.8 L1102.9 544.6 L1105.9 544.3 L1108.9 543.9 L1111.8 543 L1115 543.6 L1117.9 542.4 L1121 542.8 L1123.9 541.4 L1127 541.7 L1130 541.4 L1133 541.2 L1136 540.9 L1139 540 L1142.1 540.6 L1145 539.6 L1148.1 539.9 L1151 538.9 L1154.1 539.9 L1157.1 538.6 L1160.1 539.1 L1163.1 539 L1166.2 538.8 L1169.1 538.1 L1172.2 538.2 L1175.1 537.1 L1178.1 537.1 L1181.1 537 L1184.2 537.1 L1187.2 536.8 L1190.2 536.3 L1193.2 536.8 L1196.2 536.3 L1199.2 536.4 L1202.2 536.5 L1205.2 536.6 L1208.2 535.4 L1211.3 536.1 L1214.2 534.8 L1217.2 535 L1220.2 534.5 L1223.2 534.4 L1226.2 534.6 L1229.2 534.5 L1232.2 533.9 L1235.3 534.3 L1238.2 533.4 L1241.2 533.5 L1244.2 533.1 L1247.3 533.6 L1250.3 532.9 L1253.2 532.2 L1256.3 533 L1259.3 532.3 L1262.3 532.6 L1265.3 531.6 L1268.3 531.6 L1271.3 531.9 L1274.2 531 L1277.3 531.3 L1280.2 530.2 L1283.3 531.1 L1286.2 530 L1289.2 530.2 L1292.3 530.9 L1295.2 529.7 L1298.2 530.3 L1301.2 530.3 L1304.2 529.7 L1307.2 530.8 L1310.2 530.6 L1313.2 530 L1316.2 530 L1319.2 530.8 L1322.2 530.4 L1325.2 531 L1328.2 530.3 L1331.2 530.9 L1334.2 530.6 L1337.2 531.7 L1340.2 531.6 L1343.1 532.5 L1346.2 531.4 L1349.2 532 L1352.1 533.2 L1355.2 532.6 L1358.1 533.3 L1361.1 533.6 L1364.2 533.2 L1367.2 533.2 L1370 534.7 L1373.1 534.3 L1376 535.5 L1379.1 534.6 L1382.1 534.6 L1385.1 535.6 L1388 536.7 L1391 536.2 L1394.1 535.9 L1397.1 536.1 L1400 537.6 L1403 537.7 L1406 537.2 L1408.9 538.5 L1411.9 538.4 L1414.9 538.6 L1418 537.9 L1420.9 539.4 L1423.9 539.1 L1426.9 539.5 L1429.8 540 L1432.8 540.1 L1435.9 539.9 L1438.9 540 L1441.9 539.6 L1444.8 540.6 L1447.8 540.2 L1450.8 540.3 L1453.8 541.5 L1456.8 541 L1459.7 541.8 L1462.7 542.1 L1465.8 541.5 L1468.7 542.6 L1471.7 541.9 L1474.7 541.8 L1477.7 542.6 L1480.7 542.8 L1483.7 542.4 L1486.6 543.5 L1489.6 543.5 L1492.5 544.6 L1495.5 544.8 L1498.5 544.8 L1501.6 544.1 L1504.5 545.5 L1507.5 545.1 L1510.5 544.6 L1513.5 545.4 L1516.5 545.7 L1519.4 546.1 L1522.4 546.4 L1525.4 546.6 L1528.4 547.2 L1531.4 546.8 L1534.3 547.6 L1537.4 546.3 L1540.3 547.7 L1543.3 547.5 L1546.3 547 L1549.3 547.7 L1552.3 547.1 L1555.2 548.1 L1558.2 548.3 L1561.2 547.1 L1564.2 548.1 L1567.2 547.1 L1570.1 547.9 L1573.1 547.1 L1576.1 547.5 L1579.1 548.4 L1582.1 547.9 L1585 548.1 L1588 547.1 L1591 548.4 L1594 548.2 L1597 547.4 L1599.9 548.3 L1602.9 549 L1605.9 549 L1609 548.5 L1611.9 549.7 L1614.9 550 L1617.7 551.7 L1620.8 551.6 L1623.8 552.1 L1626.7 553 L1629.7 553.3 L1632.7 554.1 L1635.7 552.8 L1638.7 553.2 L1641.7 553.2 L1644.5 551.6 L1647.8 552.2 L1650.7 551.3 L1653.6 550.2 L1656.7 549.9 L1659.4 548.1 L1662.7 548.6 L1665.5 547.2 L1668.5 547.4 L1671.5 547.1 L1674.4 545.6 L1677.4 546.2 L1680.4 546.5 L1683.3 547.2 L1686.2 548 L1689.1 548.8 L1692.5 548.1 L1695.3 549.3 L1698.1 550.9 L1701.1 551.6 L1704.1 551.8 L1707.2 552.1 L1710.2 552.2 L1713.1 552.7 L1716.1 552.9 L1719.1 552.7 L1721.9 551.2 L1724.9 550.6 L1728 550" fill="none" stroke="#1D4399" stroke-width="11" stroke-linejoin="round" stroke-linecap="round"/>
<rect x="1019.4" y="117.4" width="162.6" height="10" fill="#F1A420"/>
<rect x="1019.4" y="215.8" width="162.6" height="10" fill="#BF1A20"/>
<rect x="1019.4" y="313.7" width="162.6" height="10" fill="#27913D"/>
<rect x="1019.4" y="411.8" width="162.6" height="10" fill="#1D4399"/>
<rect x="265" y="1493.3" width="1473.3" height="6.7" fill="#000"/>
<rect x="265" y="2597.4" width="1473.3" height="6.6" fill="#000"/>
<rect x="267.5" y="1503.4" width="7" height="1090.9" fill="#000"/>
<rect x="1727.5" y="1503.7" width="7.1" height="1090.6" fill="#000"/>
<rect x="265" y="1594.6" width="57" height="6.8" fill="#000"/>
<rect x="265" y="2004.9" width="57" height="6.8" fill="#000"/>
<rect x="265" y="2415.1" width="57" height="6.8" fill="#000"/>
<rect x="274" y="2005.2" width="1451.3" height="6.1" fill="#000"/>
<rect x="633.5" y="2551.6" width="6.6" height="56.4" fill="#000"/>
<rect x="1065.2" y="2551.6" width="6.6" height="56.4" fill="#000"/>
<rect x="1496.7" y="2551.6" width="6.6" height="56.4" fill="#000"/>
<rect x="417.7" y="2572.8" width="6.6" height="35.2" fill="#000"/>
<rect x="849.3" y="2572.8" width="6.6" height="35.2" fill="#000"/>
<rect x="1281" y="2572.8" width="6.6" height="35.2" fill="#000"/>
<rect x="1709.7" y="2572.8" width="6.6" height="35.2" fill="#000"/>
<path d="M290 1961 L292 1961 L294.5 1963 L297 1990 L300 2035 L303 2036 L305 2010 L307 1990 L309 2010 L312 2030 L315 2000 L318 1985 L321 1990 L323 2010 L326 2000 L329 1990 L332 1985 L337 1986 L341 1985 L345 1988 L350 1990 L355 1992 L365 1992 L367.8 1993 L370.4 1993.9 L373.1 1992.9 L375.8 1992.5 L378.9 1992.9 L381.5 1991.2 L384.1 1989.3 L387.4 1988.9 L389.8 1986.5 L393 1985.6 L396 1984.5 L398.7 1983.1 L401.6 1981.8 L404.5 1981.4 L407.4 1980.7 L410.4 1981.1 L413.4 1980.8 L416.4 1981 L419.3 1981.4 L422.4 1981.4 L425.2 1983 L428.3 1982.5 L431.2 1983.4 L434.2 1984.4 L437.2 1984.4 L440.1 1985.4 L443.1 1985.7 L446.1 1985.6 L449.1 1985.7 L452.1 1985.5 L455.1 1985.7 L458.1 1985.7 L461 1986.1 L463.9 1986.7 L466.9 1986.9 L469.9 1986.9 L472.7 1987.7 L475.5 1989 L478.6 1988.4 L481.4 1989.1 L484.2 1990.2 L487.1 1990.8 L489.7 1992.2 L492.6 1992.8 L495.2 1994.5 L498 1995.6 L500.8 1997.1 L503.8 1998.2 L506.5 2000 L508.9 2002.3 L511.3 2004.6 L514.2 2006.1 L517 2007.3 L519.3 2009 L521.9 2009.8 L524.6 2009.6 L527.2 2009.4 L529.9 2009.3 L532.6 2008.9 L535.4 2008.3 L538.3 2008 L541.1 2008.8 L543.9 2010.4 L546.6 2012.1 L550.1 2012.7 L552.6 2015.2 L555.7 2016.4 L558.5 2017.8 L561.2 2018.9 L563.8 2020.2 L566.5 2020 L569.2 2019.5 L571.3 2017.6 L573.9 2015.7 L577 2013.9 L579 2011.2 L581.4 2009.6 L583.9 2010.7 L586.9 2010.9 L589.2 2013.3 L591.8 2015.5 L594.3 2017.8 L597.5 2018.7 L600.1 2020.5 L602.9 2021.4 L605.8 2021.8 L608.7 2022 L611.6 2021.3 L614.6 2021.9 L617.4 2020.4 L620.5 2020.2 L622.8 2018.1 L626 2017.6 L628.4 2015.6 L630.9 2014 L633.4 2012.5 L635.5 2010.4 L638.1 2008.9 L640.6 2007.3 L642.9 2005.4 L644.3 2002.7 L646.9 2001.2 L648.7 1998.8 L650.8 1996.8 L652.5 1994.4 L654 1991.8 L656.3 1989.8 L657.3 1986.9 L659.5 1984.7 L661.4 1982.3 L662 1979.2 L664.5 1977.1 L665.2 1974.1 L667 1971.6 L667.8 1968.6 L669.6 1966.1 L671.1 1963.4 L672 1960.5 L673.3 1957.7 L675.5 1955.3 L676.7 1952.5 L677.4 1949.5 L678.4 1946.6 L679.7 1943.8 L681.8 1941.5 L682.5 1938.4 L684.6 1936.1 L685.5 1933.2 L686.9 1930.5 L688.9 1928.2 L690.6 1925.8 L691.6 1922.9 L693.3 1920.5 L694.9 1918.1 L697.1 1916 L698.1 1913.1 L700.8 1911.5 L702 1908.6 L703.8 1906.3 L706.4 1904.6 L708.3 1902.4 L710.2 1900 L712.6 1898.1 L715.3 1896.6 L717.4 1894.2 L720.4 1893.1 L723.3 1892.1 L725.7 1890.3 L728.5 1890 L731.4 1889.6 L734 1891.2 L737 1891.8 L739.8 1892.9 L742.9 1893.7 L745.5 1895.5 L748.1 1897.4 L750.7 1899.3 L753 1901.5 L755.3 1903.5 L757.5 1905.6 L759.7 1907.7 L761.7 1909.9 L764.2 1911.6 L765.9 1913.9 L767.7 1916.1 L769.3 1918.4 L770.8 1920.8 L773.1 1922.5 L775.4 1924.2 L776.9 1926.8 L779.6 1928.3 L781.9 1930.3 L784.6 1931.8 L787.2 1933.6 L789.7 1935.5 L791.9 1937.7 L794.8 1939 L797.3 1940.7 L799.6 1942.8 L802.4 1943.8 L804.9 1945.5 L807.3 1947.3 L809.8 1948.8 L812.9 1949.3 L815.3 1950.9 L817.6 1952.7 L819.9 1954.5 L822.6 1955.6 L824.8 1957.6 L827.5 1958.8 L830.3 1959.8 L832 1962.5 L834.7 1963.7 L837.6 1964.7 L839.6 1967.1 L842.4 1968.1 L844.6 1970.3 L847.2 1971.8 L850 1973.2 L852.5 1975 L855 1976.9 L857.6 1978.6 L859.9 1980.9 L862.2 1983 L865.2 1984.4 L867.1 1987.1 L870 1988.5 L872.2 1990.8 L874.9 1992.3 L877.6 1993.7 L880.2 1995.4 L883.3 1995.9 L885.8 1997.6 L888.3 1999.2 L891.1 2000.1 L893.6 2001.7 L896.3 2002.6 L899.3 2003 L901.6 2005 L904.7 2004.9 L907 2006.9 L909.5 2008.2 L912.6 2008.2 L914.8 2010.2 L917.4 2011.4 L920 2012.6 L922.9 2013.5 L925.3 2015.2 L927 2018 L929.8 2019.3 L931.7 2021.8 L934.2 2023.7 L936.6 2025.8 L938.2 2028.6 L940.3 2030.9 L943.1 2032.7 L944.4 2035.7 L946.4 2038 L948.3 2040.5 L949.8 2043.1 L951.7 2045.5 L953.3 2048.1 L955.3 2050.3 L957.1 2052.7 L958.4 2055.3 L959.5 2058.2 L961.7 2060.2 L963.6 2062.5 L965 2065.1 L966.3 2067.7 L968.2 2069.9 L970.6 2071.7 L971.4 2074.8 L974 2076.4 L976.2 2078.3 L978.1 2080.5 L980.1 2082.6 L982.1 2084.8 L984.1 2087 L986.5 2088.8 L988.8 2090.8 L991.2 2092.7 L993.2 2095.2 L996.4 2096.1 L998.5 2098.5 L1001.3 2100.1 L1004 2101.9 L1006 2104.6 L1009.3 2105.3 L1011.6 2107.5 L1014.7 2108.2 L1017 2110.3 L1020.1 2110.5 L1022.9 2110.7 L1025.7 2111.7 L1028.5 2111.5 L1031.3 2111.8 L1034.2 2112.4 L1037 2111.2 L1040 2111.9 L1042.7 2110.4 L1045.7 2110.7 L1048.6 2110 L1051.5 2109.4 L1054.3 2108.2 L1056.9 2106.7 L1059.8 2105.9 L1062.9 2105.5 L1065.5 2103.9 L1068.4 2103 L1071.3 2101.9 L1074.3 2101.2 L1077.2 2100.3 L1080.2 2099.4 L1083 2098.2 L1085.4 2096.1 L1088.3 2095 L1091.4 2094.5 L1094 2092.9 L1096.9 2092 L1099.8 2091 L1102.9 2090.8 L1105.6 2089.5 L1108.3 2088.2 L1111.1 2087.2 L1114.2 2087.5 L1117 2086.8 L1119.8 2086.1 L1122.6 2085.2 L1125.5 2085.2 L1128.4 2084.9 L1131.2 2084.1 L1133.9 2082.8 L1136.9 2083.3 L1139.7 2082.8 L1142.4 2081.4 L1145.3 2081.2 L1148.3 2080.9 L1150.8 2079 L1153.6 2077.7 L1156.7 2077.2 L1159.7 2076 L1162.3 2074 L1165.3 2072.4 L1167.8 2069.9 L1171.2 2069.2 L1173.8 2067.4 L1176.7 2066.3 L1179.6 2065.3 L1182.3 2064.1 L1184.9 2062.4 L1187.9 2062.3 L1190.8 2062.1 L1193.6 2060.9 L1196.3 2059.9 L1199.4 2059.8 L1202 2058.3 L1204.8 2057.3 L1207.7 2056.5 L1210.5 2055.4 L1213.3 2054.4 L1216.4 2054.2 L1219.1 2052.9 L1222.2 2052.6 L1224.8 2050.9 L1227.9 2050.9 L1230.6 2049.7 L1233.6 2049.3 L1236.2 2047.6 L1239.2 2047.3 L1242.2 2047.2 L1244.8 2045.5 L1247.9 2045.6 L1250.8 2045.1 L1253.4 2043.2 L1256.5 2043.5 L1259.2 2042.2 L1262.2 2041.7 L1265.1 2041.3 L1268 2040.4 L1270.9 2039.6 L1273.7 2038.6 L1276.7 2038.1 L1279.4 2036.7 L1282.4 2036.1 L1285.4 2035.8 L1288 2033.8 L1291.2 2034 L1293.8 2032.1 L1296.8 2031.5 L1299.7 2030.7 L1302.7 2030.1 L1305.6 2029 L1308.7 2028.7 L1311.6 2027.9 L1314.5 2027 L1317.2 2025.3 L1320.3 2025 L1323.3 2024.6 L1325.9 2022.5 L1329.1 2022.8 L1332.1 2022.3 L1334.8 2020.9 L1337.6 2019.7 L1340.7 2019.4 L1343.7 2019.5 L1346.4 2017.7 L1349.6 2018.2 L1352.5 2017.8 L1355.4 2016.6 L1358.3 2016.2 L1361.3 2016.1 L1364.2 2015.3 L1367.2 2015.4 L1370.2 2015 L1373.1 2014.2 L1375.9 2013.2 L1378.9 2013.1 L1381.8 2012.3 L1384.8 2012.5 L1387.8 2012.7 L1390.7 2011.8 L1393.7 2011.6 L1396.6 2010.8 L1399.7 2011.5 L1402.6 2010.8 L1405.6 2010.8 L1408.4 2009.8 L1411.5 2010 L1414.4 2009.3 L1417.3 2009 L1420.4 2009.3 L1423.3 2008.8 L1426.3 2009.1 L1429.2 2008.1 L1432.2 2007.7 L1435.2 2008.3 L1438.1 2007.2 L1441.1 2007.1 L1444.1 2007.1 L1447 2006.1 L1450 2005.7 L1452.9 2005.3 L1456 2005.8 L1459 2005.4 L1461.9 2004.4 L1464.8 2004 L1468 2004.5 L1470.7 2002.6 L1473.8 2002.6 L1476.9 2002.5 L1479.9 2001.6 L1482.7 2000.1 L1485.7 2000.3 L1488.7 1999.9 L1491.7 1999.9 L1494.8 2000 L1497.6 2001.3 L1500.7 2001.9 L1503.6 2002.6 L1506.5 2003.7 L1509.5 2003.8 L1512.5 2003.9 L1515.5 2003.5 L1518.5 2004.4 L1521.4 2004.2 L1524.4 2003.3 L1527.4 2003.8 L1530.3 2002.6 L1533.3 2002.5 L1536.2 2002 L1539.1 2001.7 L1542.1 2001.2 L1545.1 2001.3 L1548 2001.2 L1550.9 2000.8 L1553.9 2001.1 L1556.8 2001.1 L1559.7 2000.9 L1562.7 2000.9 L1565.5 2000.2 L1568.4 1999.4 L1571.2 1998.6 L1574.3 1998.9 L1577 1997.4 L1579.9 1996.8 L1582.7 1995.9 L1585.6 1997 L1588.4 1997.1 L1591.5 1997.2 L1594.1 1999.2 L1597 2001.1 L1599.5 2003.7 L1602.4 2005.7 L1605 2008.1 L1608 2009.6 L1610.9 2010.4 L1613.5 2011 L1616.3 2011.5 L1618.9 2010.2 L1621.8 2009.9 L1624.6 2009.1 L1627.1 2007.3 L1630.1 2007.1 L1632.6 2005.6 L1635.5 2006.2 L1638.2 2005.8 L1641 2006.6 L1643.9 2007 L1647 2006.8 L1649.7 2008.1 L1652.6 2009.2 L1655.8 2008.5 L1658.8 2009.2 L1661.9 2008.9 L1665 2008.6 L1668.2 2008.7 L1671.4 2008.9 L1674.6 2008.9 L1677.7 2008.6 L1680.8 2009.4 L1684 2009.5 L1687.1 2009.8 L1690.2 2010.1 L1693.1 2010.7 L1695.9 2011.5 L1698.7 2011.8 L1701.4 2011.6 L1703.9 2010.8 L1705.6 2008.5 L1708.4 2007.4 L1709.7 2004.4 L1712.2 2001.4 L1713 1997" fill="none" stroke="#F1A420" stroke-width="10.5" stroke-linejoin="round" stroke-linecap="round"/>
<path d="M291 1876 L294 1880 L297 1879 L299.8 1870 L300.8 1837 L302 1837 L303 1868 L306 1882 L309 1876 L312 1888 L315 1895 L318 1884 L320 1866 L322 1864 L325 1880 L328 1889 L331 1883 L334 1872 L337 1878 L341 1870 L345 1868 L350 1864 L356 1867 L362 1862 L370 1859 L380 1855 L392 1851 L394.9 1850.1 L397.8 1848.9 L400.8 1848.5 L403.6 1847.4 L406.7 1847.6 L409.5 1846.7 L412.4 1845.8 L415.3 1845.3 L418.2 1844.9 L421.1 1845 L424 1845.2 L426.9 1845.5 L429.6 1846.4 L432.5 1846.7 L435.6 1846.8 L438.3 1848.2 L441.3 1848.9 L444.2 1849.9 L446.9 1851.5 L449.8 1852.9 L452.4 1854.7 L455.1 1856.3 L458.2 1857.2 L460.9 1859 L464.1 1859.4 L466.7 1861.2 L469.5 1862.2 L472.5 1862.6 L475.2 1864 L478 1864.8 L480.9 1864.6 L483.7 1865.6 L486.5 1865 L489.3 1865.5 L492.2 1865.6 L494.8 1864.1 L497.8 1864.7 L500.4 1863.2 L503.3 1863.1 L506.2 1862.7 L508.9 1861.6 L511.6 1860.4 L514.4 1859.4 L516.7 1857.3 L519.5 1856.3 L522 1854.6 L525 1853.6 L526.9 1851.1 L529.7 1849.8 L532 1847.7 L534.7 1846.1 L537 1844.1 L539.5 1842.3 L541.6 1840 L544.3 1838.3 L546.5 1836.1 L548.8 1834 L550.7 1831.5 L552.9 1829.4 L555.3 1827.5 L557.9 1825.7 L559.2 1822.8 L561.6 1820.9 L563.3 1818.4 L565.5 1816.3 L567.6 1814.1 L569.2 1811.6 L571.5 1809.5 L572.9 1806.8 L574.7 1804.5 L576.6 1802.2 L577.4 1799.2 L579.4 1797 L581.7 1795 L583.2 1792.4 L584.7 1789.9 L586.4 1787.5 L587.3 1784.6 L589.3 1782.3 L591 1779.9 L592 1777.1 L594.1 1774.9 L594.6 1771.8 L596.3 1769.4 L598.2 1767.1 L599.1 1764.2 L601.7 1762.3 L602.5 1759.3 L603.6 1756.5 L606 1754.4 L607.1 1751.6 L608.8 1749.1 L610.5 1746.6 L611.5 1743.6 L613.5 1741.3 L615.3 1738.8 L616.5 1735.8 L619.3 1733.9 L620.5 1731 L622.8 1728.7 L623.8 1725.6 L626 1723.2 L628.1 1720.9 L630.3 1718.7 L632.4 1716.5 L634.5 1714.3 L636.6 1712.3 L639.5 1711.4 L641.5 1709.4 L644 1708.3 L646 1706.3 L648.9 1706 L651.3 1704.7 L654 1703.7 L656.8 1703 L659.5 1702.2 L662.2 1701.7 L664.9 1701.2 L667.8 1700.6 L670.5 1701.8 L673.6 1702.2 L675.6 1704.8 L678.7 1706 L680.6 1708.9 L682.6 1711.5 L685.3 1713.5 L687.2 1716.1 L688.8 1718.7 L689.6 1721.8 L691.4 1724.1 L692.2 1727 L693.9 1729.4 L695.3 1732 L696.4 1734.7 L697 1737.5 L697.9 1740.2 L698.1 1743.2 L699.1 1745.9 L699.1 1748.9 L700.3 1751.6 L701 1754.4 L702.2 1757.1 L702.8 1760 L703.6 1762.9 L704.4 1765.7 L705.7 1768.5 L706 1771.5 L706.4 1774.5 L707.4 1777.4 L708.1 1780.4 L710.1 1782.9 L710.7 1786 L711.2 1789 L712.8 1791.7 L712.8 1794.9 L713.4 1797.9 L715 1800.6 L715.8 1803.6 L717 1806.4 L717 1809.6 L718 1812.4 L719.4 1815.2 L719.6 1818.3 L720.4 1821.2 L721.5 1824 L723.1 1826.7 L722.6 1830 L723.9 1832.8 L724.8 1835.7 L726.1 1838.4 L726.2 1841.5 L726.6 1844.5 L727.2 1847.5 L727.9 1850.4 L729.8 1853 L729.5 1856.1 L730.3 1859 L731 1861.9 L732 1864.8 L732.4 1867.8 L733 1870.7 L733.8 1873.6 L734 1876.6 L735.2 1879.4 L736 1882.3 L736.5 1885.3 L736.9 1888.2 L738.1 1891 L737.9 1894.1 L738.9 1897 L739.6 1899.9 L740.5 1902.8 L740.6 1905.8 L741.6 1908.7 L741.7 1911.7 L742 1914.7 L743.3 1917.5 L743.9 1920.4 L744.6 1923.3 L743.8 1926.5 L745.6 1929.2 L745.2 1932.3 L746.7 1935.1 L747.2 1938.1 L747.5 1941.1 L747.7 1944.1 L748.4 1947 L749.1 1949.9 L749.2 1952.9 L749.2 1956 L749.9 1958.9 L751.1 1961.7 L750.3 1964.9 L751 1967.8 L751.6 1970.8 L752.4 1973.7 L753.5 1976.5 L753.5 1979.6 L754.4 1982.5 L753.7 1985.6 L754.5 1988.5 L754.7 1991.5 L755 1994.5 L756.1 1997.4 L756.9 2000.3 L757.2 2003.3 L757.7 2006.2 L758.2 2009.2 L758.9 2012.1 L758.2 2015.3 L758.9 2018.2 L760.3 2021 L760.7 2024 L761 2027 L760.6 2030.1 L762.2 2032.9 L762.3 2035.9 L762.2 2038.9 L763.4 2041.8 L762.9 2044.9 L763.8 2047.8 L764.7 2050.7 L764.9 2053.7 L765.8 2056.6 L766.2 2059.6 L766.4 2062.6 L767.2 2065.5 L767.1 2068.6 L767.8 2071.5 L768.5 2074.4 L768.9 2077.4 L769.5 2080.4 L769.1 2083.5 L769.9 2086.4 L770.5 2089.4 L771.8 2092.2 L771.9 2095.2 L771.6 2098.3 L772.3 2101.3 L772.8 2104.2 L773.9 2107.1 L773.7 2110.2 L774.4 2113.1 L774.7 2116.1 L775.6 2119 L776.8 2121.8 L776.9 2124.9 L777.3 2127.9 L777.6 2130.9 L778.6 2133.7 L778.7 2136.8 L780.1 2139.6 L780.9 2142.5 L780.6 2145.6 L781 2148.6 L782.2 2151.4 L782.5 2154.4 L782.9 2157.4 L784.2 2160.2 L784 2163.3 L784.4 2166.3 L785.9 2169.1 L786 2172.2 L786.1 2175.2 L787.4 2178 L787.9 2181 L788.2 2184 L788.9 2186.9 L789.1 2189.9 L790.4 2192.8 L790.8 2195.7 L792.3 2198.5 L792.8 2201.5 L792.6 2204.6 L793 2207.6 L793.7 2210.5 L795.2 2213.3 L794.9 2216.4 L796.3 2219.2 L797.2 2222.1 L797 2225.2 L797.5 2228.2 L798 2231.1 L799.5 2233.9 L799.8 2236.9 L800.3 2239.9 L800.6 2242.9 L801.7 2245.7 L802 2248.8 L802.7 2251.7 L803.7 2254.5 L804.8 2257.4 L805 2260.4 L805.9 2263.3 L806.4 2266.2 L806.6 2269.3 L808.1 2272 L808.5 2275 L808.8 2278 L809.8 2280.9 L810.7 2283.8 L811.2 2286.7 L812.1 2289.6 L812.6 2292.6 L812.6 2295.7 L814.1 2298.4 L814.2 2301.4 L815.3 2304.3 L816 2307.2 L816.1 2310.2 L817.8 2312.9 L817.5 2316.1 L818.6 2318.9 L820 2321.6 L820.7 2324.6 L820.2 2327.8 L821.5 2330.5 L821.7 2333.6 L822.3 2336.5 L824.2 2339.1 L824 2342.3 L825.3 2345 L825.2 2348.1 L826.6 2350.9 L826.4 2354 L827.2 2356.9 L828.7 2359.6 L829.7 2362.4 L829.4 2365.6 L831 2368.3 L831.2 2371.3 L831.7 2374.3 L832.7 2377.1 L832.7 2380.2 L833.9 2383 L835 2385.8 L836.1 2388.6 L835.8 2391.7 L837.2 2394.4 L838.2 2397.3 L838.5 2400.3 L838.9 2403.3 L840 2406.1 L840 2409.2 L841.7 2411.8 L841.5 2414.9 L842.4 2417.8 L844.1 2420.4 L844.4 2423.5 L844.9 2426.4 L845.9 2429.2 L846.4 2432.2 L847 2435.1 L848.6 2437.8 L849.4 2440.7 L849.4 2443.8 L850.7 2446.5 L851.2 2449.5 L852.8 2452.2 L853.3 2455.1 L854.5 2457.9 L854.8 2460.9 L855.2 2463.9 L856.4 2466.7 L856.7 2469.7 L858.8 2472.2 L858.8 2475.4 L860.3 2478 L861.4 2480.9 L861.8 2483.9 L862.5 2486.8 L863.1 2489.8 L864.8 2492.4 L864.9 2495.6 L865.9 2498.4 L867.1 2501.2 L868.6 2503.9 L870 2506.7 L870.7 2509.6 L872.1 2512.4 L872 2515.7 L873.2 2518.5 L874.9 2521.1 L876.5 2523.8 L877.8 2526.5 L879.2 2529.2 L880.1 2532.2 L881 2535.2 L883.1 2537.5 L883.7 2540.7 L885.8 2543.1 L888.1 2545.3 L889.8 2547.8 L891.3 2550.5 L892.9 2552.9 L895.4 2554 L897.4 2555.2 L899.4 2556.7 L901.7 2556.2 L904.3 2555.9 L906.4 2553.9 L908.2 2551.6 L911.1 2549.8 L912.3 2546.6 L913.7 2543.6 L915.2 2540.5 L915.9 2537.3 L917.6 2534.5 L918 2531.4 L919.7 2528.8 L920.1 2525.8 L921.3 2523 L921.3 2519.9 L922.3 2517.2 L923.3 2514.3 L923.8 2511.4 L924.9 2508.7 L925.7 2505.8 L927 2503.1 L927.3 2500.1 L928.3 2497.3 L929.2 2494.4 L929.2 2491.4 L929.9 2488.4 L931.1 2485.7 L931.1 2482.6 L931.5 2479.6 L933 2476.9 L933.3 2473.9 L934.3 2471.1 L934.4 2468 L934.8 2465.1 L935.5 2462.1 L936.8 2459.4 L937 2456.3 L937.9 2453.5 L938.3 2450.5 L939.6 2447.7 L940.2 2444.7 L939.8 2441.6 L940.3 2438.6 L941.8 2435.9 L941.3 2432.7 L942.7 2429.9 L943.2 2426.9 L943 2423.9 L943.5 2420.9 L945.4 2418.2 L945.3 2415.1 L945.4 2412 L946 2409.1 L947.5 2406.3 L947.2 2403.2 L948.3 2400.3 L948.5 2397.3 L948.6 2394.3 L949.3 2391.3 L949.3 2388.3 L950.6 2385.4 L950.3 2382.3 L951.7 2379.5 L951.4 2376.4 L952.3 2373.5 L952.6 2370.5 L953.8 2367.6 L953.6 2364.6 L954.7 2361.7 L955.4 2358.7 L955.7 2355.7 L956 2352.7 L956.2 2349.7 L956.5 2346.7 L957 2343.8 L956.9 2340.7 L958.5 2337.9 L957.8 2334.7 L958.5 2331.8 L959.1 2328.9 L959.4 2325.9 L960.8 2323 L960.6 2320 L961.4 2317 L961.4 2314 L962.9 2311.2 L962.9 2308.2 L962.6 2305.1 L963.7 2302.2 L964.3 2299.3 L964.1 2296.2 L965 2293.3 L966.1 2290.5 L965.8 2287.4 L966.6 2284.5 L967.2 2281.5 L967.8 2278.6 L968.7 2275.7 L969.2 2272.8 L969.4 2269.8 L969.6 2266.8 L970.3 2263.9 L970.3 2260.8 L971.6 2258 L971.6 2255 L972 2252 L973.4 2249.3 L973.3 2246.2 L974 2243.3 L975.2 2240.5 L975.7 2237.5 L976.6 2234.7 L976.7 2231.6 L977.2 2228.7 L978.3 2225.9 L977.9 2222.7 L979.1 2219.9 L979.6 2217 L980.3 2214.1 L981.3 2211.2 L981.5 2208.2 L983.1 2205.5 L983.1 2202.4 L983.9 2199.6 L984.5 2196.6 L986.4 2194 L986.6 2191 L987.2 2188 L988.5 2185.3 L989 2182.3 L990.3 2179.5 L990.3 2176.4 L991.5 2173.6 L992.2 2170.7 L993.3 2167.9 L994.7 2165.2 L996.2 2162.5 L996.5 2159.4 L998.2 2156.8 L999.3 2154 L999.4 2150.8 L1001.2 2148.2 L1001.4 2145 L1003.4 2142.5 L1003.8 2139.4 L1005.4 2136.8 L1006.2 2133.8 L1008.4 2131.4 L1008.8 2128.2 L1010.8 2125.7 L1011.8 2122.8 L1012.4 2119.7 L1014.4 2117.2 L1016.4 2114.8 L1017.3 2111.9 L1019.2 2109.6 L1020.3 2106.8 L1022.4 2104.7 L1024.7 2102.9 L1027 2101.2 L1029.4 2099.7 L1031.7 2097.8 L1034.3 2096.4 L1037.3 2096.1 L1040.2 2095.6 L1043.1 2096.2 L1046 2096.3 L1049 2096.1 L1051.9 2096.4 L1054.7 2097.8 L1057.5 2098.9 L1060.3 2100.1 L1063.5 2100.6 L1066.4 2101.7 L1069 2103.4 L1072.1 2103.7 L1074.9 2104.8 L1077.7 2105.8 L1080.7 2106.1 L1083.5 2106.9 L1086.3 2108.1 L1089.3 2108 L1092.3 2108.4 L1095.1 2109.6 L1098.1 2109.3 L1101 2110 L1103.9 2111.1 L1106.9 2110.9 L1109.8 2111.7 L1112.8 2111.6 L1115.8 2112.2 L1118.7 2112.4 L1121.7 2113.1 L1124.6 2113.6 L1127.6 2114.1 L1130.5 2114.5 L1133.5 2114.3 L1136.5 2114.9 L1139.6 2113.8 L1142.5 2114.2 L1145.5 2115.1 L1148.5 2114.2 L1151.5 2114.4 L1154.5 2115 L1157.5 2115.4 L1160.5 2114.8 L1163.5 2114.9 L1166.4 2114.8 L1169.4 2114.5 L1172.5 2115.4 L1175.4 2114.8 L1178.5 2115.3 L1181.4 2114.5 L1184.4 2114 L1187.4 2114.3 L1190.4 2114.1 L1193.4 2113.9 L1196.3 2112.5 L1199.3 2112.6 L1202.3 2112.7 L1205.2 2111.8 L1208.1 2110.7 L1211.2 2111.4 L1214 2109.7 L1217 2109.3 L1219.9 2108.8 L1222.9 2108.4 L1225.9 2107.9 L1228.7 2106.8 L1231.7 2106.2 L1234.6 2105.4 L1237.4 2104.3 L1240.3 2103.5 L1243.4 2103.3 L1246.1 2101.8 L1249.1 2101.2 L1251.8 2099.6 L1254.7 2098.5 L1257.8 2098.1 L1260.7 2097.1 L1263.2 2095.1 L1266.3 2094.5 L1269.3 2093.7 L1271.8 2091.8 L1274.9 2091.3 L1277.6 2089.8 L1280.1 2087.9 L1283 2086.9 L1286.1 2086.4 L1288.6 2084.6 L1291.3 2083.2 L1294.3 2082.7 L1297 2081.3 L1299.7 2079.9 L1302.4 2078.6 L1305.4 2078.3 L1308.2 2077.6 L1310.7 2075.8 L1313.5 2075 L1316.2 2074.1 L1319.3 2074.6 L1321.9 2073 L1324.8 2072.6 L1327.5 2071.7 L1330.3 2070.8 L1333.3 2071 L1335.9 2069.6 L1338.8 2069.2 L1341.5 2067.9 L1344.6 2068 L1347.2 2066.5 L1350.1 2065.9 L1353.1 2065.5 L1355.6 2063.4 L1358.5 2062.5 L1361.7 2062.4 L1364.6 2061.7 L1367.5 2060.5 L1370.3 2059.2 L1373.1 2057.9 L1375.9 2056.4 L1379 2056 L1381.7 2054.4 L1384.8 2053.8 L1387.4 2051.9 L1390.5 2051.3 L1393.6 2051 L1396.3 2049.1 L1399.3 2048.7 L1402.4 2048.1 L1405 2046.3 L1408.1 2046.1 L1410.8 2044.5 L1413.7 2043.6 L1416.7 2043.3 L1419.8 2043.5 L1422.7 2042.7 L1425.3 2041 L1428.4 2041.1 L1431.3 2040.4 L1434.2 2040 L1437.1 2039.1 L1439.9 2038.3 L1442.8 2037.7 L1445.4 2036 L1448.4 2035.7 L1451.2 2034.9 L1454.3 2035 L1457 2033.6 L1459.7 2032.2 L1462.6 2031.5 L1465.7 2032 L1468.5 2031 L1471.4 2030.3 L1474 2028.5 L1477.1 2028.8 L1480 2027.9 L1482.6 2026.1 L1485.5 2025.7 L1488.5 2025.3 L1491.3 2023.9 L1494.4 2024.1 L1497 2022.3 L1500.2 2022.6 L1502.9 2021.1 L1506.1 2021.2 L1508.7 2019.3 L1511.6 2018.4 L1514.9 2018.8 L1517.6 2017.2 L1520.6 2016.5 L1523.6 2015.7 L1526.8 2015.8 L1529.7 2014.7 L1532.7 2013.9 L1535.6 2012.6 L1538.6 2012 L1541.7 2011.9 L1544.6 2010.6 L1547.8 2010.9 L1550.7 2009.9 L1553.7 2009.4 L1556.8 2009.9 L1559.7 2008.9 L1562.7 2008.8 L1565.7 2009.6 L1568.6 2009.3 L1571.6 2008.9 L1574.5 2009.4 L1577.3 2010.1 L1580.1 2011.1 L1583 2010.9 L1585.8 2011.4 L1588.5 2010.6 L1591.1 2009.6 L1593.7 2008.6 L1596.7 2007.7 L1599.6 2006 L1602.2 2003.9 L1604.1 2000.8 L1607.1 1999.4 L1609.9 1998.1 L1612.6 1997.4 L1615.3 1996.6 L1618.1 1997.2 L1621 1997 L1623.8 1998.1 L1626.7 1998.9 L1629.6 1999 L1632.3 1998.4 L1635.2 1998.2 L1638 1997.4 L1640.4 1995.3 L1643.2 1994.2 L1646 1992.7 L1648.2 1990.4 L1651.1 1989.2 L1653.9 1987.8 L1657.1 1988.2 L1659.7 1986.6 L1662.8 1987.6 L1665.8 1986.6 L1668.7 1987.4 L1671.8 1987.5 L1674.8 1987.9 L1677.8 1988.4 L1680.8 1988.3 L1683.7 1989.3 L1686.5 1988.2 L1689.3 1988 L1691.9 1986.7 L1694.8 1985.9 L1697.5 1984 L1699 1980.6 L1701.6 1977.6 L1703.9 1974.1 L1705.2 1970.8 L1706.9 1971 L1708 1973.4 L1709.8 1980.7 L1711 1994" fill="none" stroke="#BF1A20" stroke-width="10.5" stroke-linejoin="round" stroke-linecap="round"/>
<rect x="952.2" y="1657" width="162.3" height="10" fill="#F1A420"/>
<rect x="952.2" y="1756" width="162.3" height="10" fill="#BF1A20"/>
<g font-family="'Liberation Sans', Arial, Helvetica, sans-serif" fill="#000">
<text x="1220.7" y="148.6" font-size="88">0.8±0.1 ps</text>
<text x="1219.6" y="245.8" font-size="88">60±0.33 ps</text>
<text x="1219" y="344.6" font-size="88">4.6±0.1 ns</text>
<text x="1219.6" y="444" font-size="88">offset</text>
<text x="263.5" y="280.7" font-size="88" text-anchor="end">10</text>
<text x="263.5" y="614.3" font-size="88" text-anchor="end">0</text>
<text x="263.5" y="947.3" font-size="88" text-anchor="end">-10</text>
<text x="655" y="1250.4" font-size="88" text-anchor="middle">400</text>
<text x="1086" y="1250.4" font-size="88" text-anchor="middle">500</text>
<text x="1516" y="1250.4" font-size="88" text-anchor="middle">600</text>
<text x="985.9" y="1395.2" font-size="88" text-anchor="middle" letter-spacing="0.27">Wavelength(nm)</text>
<text x="10.8" y="90.1" font-size="94">(</text>
<text x="42.7" y="90.1" font-size="97">A</text>
<text x="108.3" y="90.1" font-size="94">)</text>
<text transform="translate(115.3 574) rotate(-90)" font-size="87.4" text-anchor="middle">DADS <tspan dy="-7"><tspan font-family="'Liberation Serif', serif">Δ</tspan><tspan font-style="italic">A</tspan> (mOD)</tspan></text>
<text x="1153" y="1687.9" font-size="88">8.6±0.14ps</text>
<text x="1155.2" y="1786.6" font-size="88">102±0.28ps</text>
<text x="236" y="1625" font-size="88" text-anchor="end">5</text>
<text x="236" y="2036.1" font-size="88" text-anchor="end">0</text>
<text x="236" y="2447" font-size="88" text-anchor="end">-5</text>
<text x="636.5" y="2715.3" font-size="88" text-anchor="middle">400</text>
<text x="1069" y="2715.3" font-size="88" text-anchor="middle">500</text>
<text x="1498" y="2715.3" font-size="88" text-anchor="middle">600</text>
<text x="967.9" y="2858.9" font-size="88" text-anchor="middle" letter-spacing="0.27">Wavelength(nm)</text>
<text x="10.3" y="1561.3" font-size="94">(</text>
<text x="42.2" y="1561.3" font-size="97">B</text>
<text x="108.9" y="1561.3" font-size="94">)</text>
<text transform="translate(111.6 2079) rotate(-90)" font-size="88.7" text-anchor="middle">DADS <tspan><tspan font-family="'Liberation Serif', serif">Δ</tspan><tspan font-style="italic">A</tspan> (mOD)</tspan></text>
</g>
</svg>
</body></html>
